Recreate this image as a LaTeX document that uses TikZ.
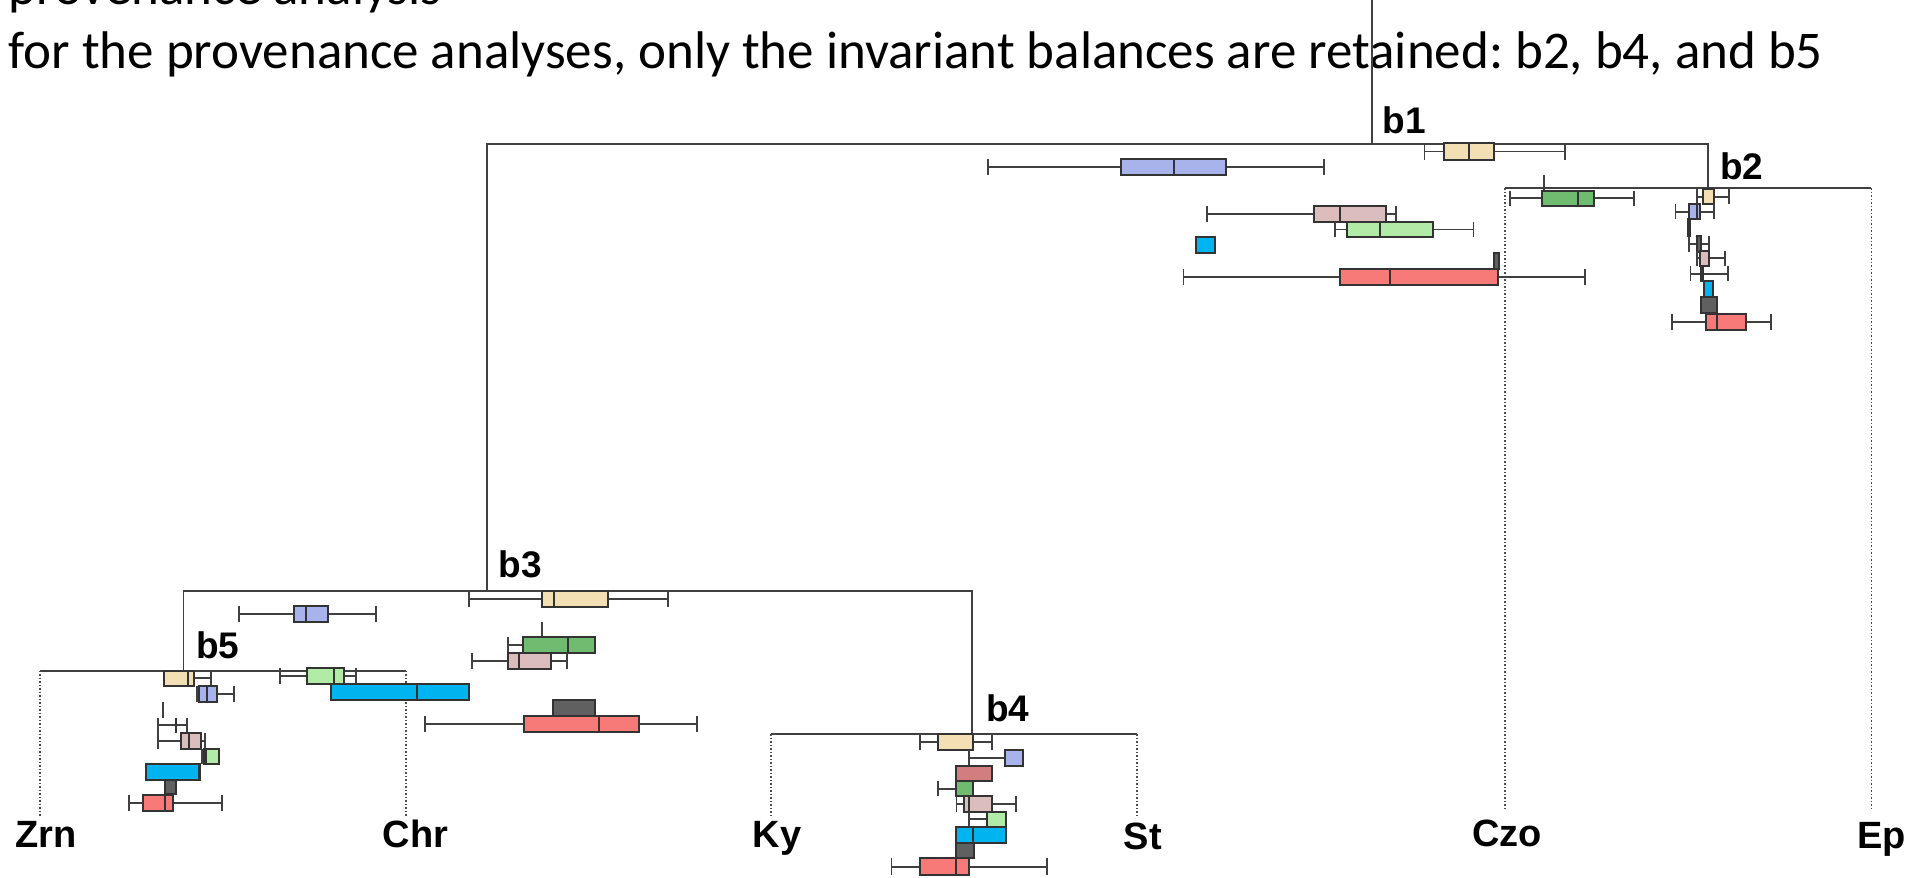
\documentclass[tikz,border=0pt]{standalone}
\usepackage{fontspec}
\setmainfont{Carlito}
\newfontfamily\arb{Liberation Sans}
\definecolor{cbeige}{HTML}{F2DFB4}
\definecolor{cblue}{HTML}{A8B3EC}
\definecolor{crose}{HTML}{DCBDBD}
\definecolor{clgreen}{HTML}{B2EBA8}
\definecolor{ccyan}{HTML}{00B4F0}
\definecolor{cdgray}{HTML}{606060}
\definecolor{cred}{HTML}{F77A78}
\definecolor{cgreen}{HTML}{6FBB6F}
\definecolor{cdrose}{HTML}{D27E7E}
\newcommand\bp[8]{%
  \pgfmathsetmacro\ym{(#7+#8)/2}%
  \draw[whisk] (#2,\ym) -- (#3,\ym) (#5,\ym) -- (#6,\ym) (#2,#7) -- (#2,#8) (#6,#7) -- (#6,#8);
  \filldraw[boxst, fill=#1] (#3,#7) rectangle (#5,#8);
  \draw[boxst] (#4,#7) -- (#4,#8);
}
\tikzset{
  tree/.style={draw=black!75, line width=1.8pt},
  leafline/.style={draw=black!70, line width=1.4pt, dash pattern=on 1.5pt off 2pt},
  boxst/.style={draw=black!80, line width=2pt},
  whisk/.style={draw=black!75, line width=1.8pt},
  blab/.style={font=\arb\bfseries\fontsize{37}{37}\selectfont, inner sep=0pt, anchor=base west},
  llab/.style={font=\arb\bfseries\fontsize{38}{38}\selectfont, inner sep=0pt, anchor=base},
  ttl/.style={font=\frenchspacing\fontsize{53}{53}\selectfont, inner sep=0pt, anchor=base west},
}
\begin{document}
\begin{tikzpicture}[x=1.2239pt, y=-1.2239pt]
\useasboundingbox (0,0) rectangle (1568,717);
\fill[white] (0,0) rectangle (1568,717);
\clip (0,0) rectangle (1568,717);
% title
\node[ttl] (t1) at (7,4) {provenance analysis};
\node[ttl] (t2) at (7,55.8) {for the provenance analyses, only the invariant balances are retained: b2, b4, and b5};
% tree coordinates
\coordinate (root) at (1121,-5);
\coordinate (b1) at (1121,117.5);
\coordinate (b1l) at (398.2,117.5);
\coordinate (b1r) at (1395.5,117.5);
\coordinate (b2) at (1395.5,153.7);
\coordinate (b2l) at (1229.8,153.7);
\coordinate (b2r) at (1529,153.7);
\coordinate (b3) at (398.2,482.9);
\coordinate (b3l) at (150,482.9);
\coordinate (b3r) at (794.5,482.9);
\coordinate (b5) at (150,548);
\coordinate (b5l) at (32.7,548);
\coordinate (b5r) at (331.7,548);
\coordinate (b4) at (794.5,600);
\coordinate (b4l) at (630,600);
\coordinate (b4r) at (929,600);
\coordinate (zrnE) at (32.7,668);
\coordinate (chrE) at (331.7,668);
\coordinate (kyE) at (630,667);
\coordinate (stE) at (929,667);
\coordinate (czoE) at (1229.8,660);
\coordinate (epE) at (1529,660);
\draw[tree] (root) -- (b1);
\draw[tree] (b3) -- (b1l) -- (b1r) -- (b2);
\draw[tree] (b2l) -- (b2r);
\draw[tree] (b5) -- (b3l) -- (b3r) -- (b4);
\draw[tree] (b5l) -- (b5r);
\draw[tree] (b4l) -- (b4r);
\draw[leafline] (b2l) -- (czoE);
\draw[leafline] (b2r) -- (epE);
\draw[leafline] (b5l) -- (zrnE);
\draw[leafline] (b5r) -- (chrE);
\draw[leafline] (b4l) -- (kyE);
\draw[leafline] (b4r) -- (stE);
% labels
\node[blab] (lb1) at (1129.5,108.9) {b1};
\node[blab] (lb2) at (1405.5,147) {b2};
\node[blab] (lb3) at (407.5,471.7) {b3};
\node[blab] (lb4) at (805.7,589.6) {b4};
\node[blab] (lb5) at (160.2,537.9) {b5};
\node[llab] (zrn) at (37.6,692.5) {Zrn};
\node[llab] (chr) at (339.4,692.5) {Chr};
\node[llab] (ky) at (634.8,692.5) {Ky};
\node[llab] (st) at (933.9,694) {St};
\node[llab] (czo) at (1231.5,692) {Czo};
\node[llab] (ep) at (1537.4,693) {Ep};
% ---- b1 boxes
\bp{cbeige}{1164}{1180}{1200.7}{1220.7}{1278.6}{117}{130.7}
\bp{cblue}{807.3}{916}{959.5}{1001.8}{1081.8}{130.2}{143.3}
\draw[whisk] (1261.6,143) -- (1261.6,155.8);
\bp{cgreen}{1234}{1259.6}{1289.5}{1302.6}{1335}{155.8}{168.3}
\bp{crose}{986.2}{1074}{1095}{1132.6}{1140.4}{168.3}{181.1}
\bp{clgreen}{1090.5}{1100.4}{1127.5}{1171.2}{1204}{181.1}{193.9}
\bp{ccyan}{977.4}{977.4}{977.4}{993}{993}{193.4}{206.7}
\bp{cdgray}{1221}{1221}{1221}{1225}{1225}{206.4}{220}
\bp{cred}{967}{1095}{1136}{1224}{1295.2}{220}{233.1}
% ---- b2 boxes
\bp{cbeige}{1386.3}{1391.2}{1391.2}{1400.7}{1412.8}{154.7}{166.7}
\bp{cblue}{1369}{1380}{1386.8}{1389}{1400.5}{166.7}{179.2}
\draw[boxst, fill=cdgray] (1379.6,179.2) rectangle (1381,192.8);
\bp{cdgray}{1380}{1386.3}{1386.3}{1389.6}{1396.6}{192.8}{205.6}
\bp{crose}{1386.6}{1389}{1389}{1396.6}{1409.5}{204.8}{217.3}
\bp{clgreen}{1381.3}{1390}{1390}{1391.2}{1411.6}{217.3}{230}
\bp{ccyan}{1392.5}{1392.5}{1392.5}{1399.9}{1399.9}{230}{242.4}
\bp{cdgray}{1389.8}{1389.8}{1389.8}{1403.2}{1403.2}{243}{255.5}
\bp{cred}{1366.4}{1393.6}{1403.2}{1426.3}{1447}{256.6}{269.6}
% ---- b3 boxes
\bp{cbeige}{383.5}{443.1}{452.7}{496.5}{546}{482.9}{495.7}
\bp{cblue}{195.5}{240.5}{250}{268.3}{307.2}{495.1}{508.2}
\draw[whisk] (443.1,508) -- (443.1,520.7);
\bp{cgreen}{414.8}{427.6}{464.4}{486.4}{486.4}{520.7}{533.8}
\bp{crose}{385.4}{414.8}{423.8}{450.2}{463.3}{533.8}{546.4}
\bp{clgreen}{228.8}{250.6}{273.2}{281.1}{290.6}{546}{558.9}
\bp{ccyan}{270.5}{270.5}{340.7}{383}{383}{558.9}{572}
\bp{cdgray}{452.1}{452.1}{452.1}{486.4}{486.4}{572}{584.8}
\bp{cred}{347.3}{428.4}{489.7}{522.4}{569.7}{585}{598.1}
% ---- b5 boxes
\bp{cbeige}{134}{134}{153.3}{158.8}{172.1}{548}{560.5}
\bp{cblue}{160.7}{162.9}{169.4}{177}{191.2}{560.5}{573.6}
\draw[whisk] (133.5,573.8) -- (133.5,586.4);
\draw[whisk] (128.8,592.5) -- (152.5,592.5) (128.8,586.4) -- (128.8,598.6) (152.5,586.4) -- (152.5,598.6);
\draw[boxst] (143.5,586.4) -- (143.5,598.6);
\bp{crose}{129.4}{147.9}{154.4}{164.2}{167.5}{598.6}{611.7}
\bp{clgreen}{164.8}{166.9}{168.5}{178.9}{178.9}{611.7}{624.2}
\bp{ccyan}{119.3}{119.3}{162.6}{163.4}{163.4}{624.2}{637}
\bp{cdgray}{134.5}{134.5}{134.5}{143.8}{143.8}{637}{648.8}
\bp{cred}{105.1}{117.1}{134.5}{141.6}{181.1}{649.6}{662.6}
% ---- b4 boxes
\bp{cbeige}{751.7}{766.1}{795.3}{795.3}{810.3}{600}{612.8}
\draw[whisk] (792,612.8) -- (792,625.9) (792,619.2) -- (821.1,619.2);
\bp{cblue}{821.1}{821.1}{821.1}{836.1}{836.1}{612.8}{625.6}
\bp{cdrose}{781.1}{781.1}{781.1}{810.3}{810.3}{625.9}{638.4}
\bp{cgreen}{766.1}{781.1}{781.1}{795.3}{795.3}{638.4}{650.4}
\bp{crose}{781.6}{787.6}{792}{810.3}{829.9}{650.4}{663.2}
\draw[whisk] (792,663.2) -- (792,675.4) (792,669.3) -- (806.7,669.3);
\bp{clgreen}{806.7}{806.7}{806.7}{821.7}{821.7}{663.2}{675.4}
\bp{ccyan}{781.1}{781.1}{795.3}{821.7}{821.7}{675.4}{688.5}
\bp{cdgray}{781.1}{781.1}{781.1}{795.8}{795.8}{688.5}{701.3}
\bp{cred}{728.5}{751.7}{781.1}{792}{855.2}{701.3}{714.9}
\end{tikzpicture}
\end{document}
